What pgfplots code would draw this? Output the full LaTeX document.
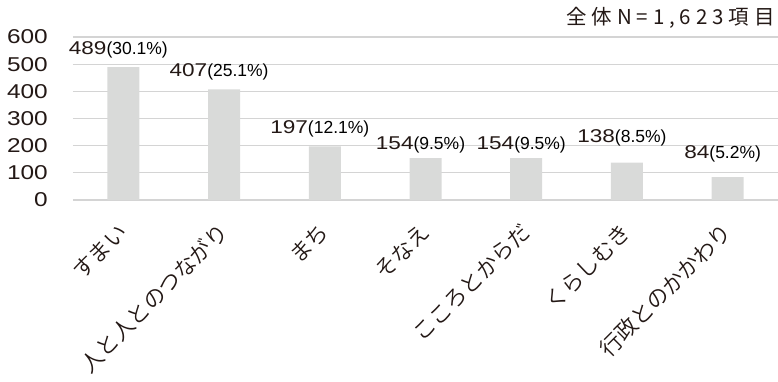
\documentclass[border=0pt]{standalone}
\usepackage{pgfplots}
\pgfplotsset{compat=1.18}
\usepackage{pgfplotstable}
\usepackage{graphicx}
\usepackage{fontspec}
\setmainfont{Liberation Sans}
\newfontfamily\jp{Noto Sans CJK JP}[UprightFont=* DemiLight]
\newfontfamily\jpr{Noto Sans CJK JP}
\definecolor{txt}{HTML}{231815}
\definecolor{bargray}{HTML}{D9DAD9}
\definecolor{gridgray}{HTML}{D4D4D4}
\pgfplotstableread{
x y pct dy
0 489 30.1 13
1 407 25.1 13
2 197 12.1 13
3 154 9.5 9
4 154 9.5 9
5 138 8.5 20
6 84 5.2 19
}\datatable
\begin{document}
\color{txt}
\begin{tikzpicture}
\useasboundingbox (-73pt,-181pt) rectangle (705pt,200pt);
\begin{axis}[
  at={(0,0)}, anchor=south west,
  scale only axis, width=705pt, height=163pt,
  xmin=-0.5, xmax=6.5, ymin=0, ymax=600,
  ytick={0,100,200,300,400,500,600},
  yticklabels={0,100,200,300,400,500,600},
  xtick={0,1,2,3,4,5,6},
  xticklabels={すまい,人と人とのつながり,まち,そなえ,こころとからだ,くらしむき,行政とのかかわり},
  axis line style={draw=none},
  major tick length=0pt,
  ymajorgrids,
  grid style={color=gridgray, line width=1.3pt},
  yticklabel style={font=\fontsize{20}{20}\selectfont, inner sep=0pt, anchor=east, xshift=-25pt, xscale=1.22},
  xticklabel style={font=\jp\fontsize{22}{22}\selectfont, inner sep=0pt, rotate=45, anchor=east},
  xticklabel shift=28pt,
  ybar, bar width=32pt,
  clip=false,
  /pgf/number format/assume math mode=true,
]
\addplot[fill=bargray, draw=none,
  visualization depends on={\thisrow{pct}\as\pct},
  visualization depends on={\thisrow{dy}\as\dy},
  nodes near coords={\fontsize{18.5}{18.5}\selectfont\scalebox{1.22}[1]{\pgfmathprintnumber{\pgfplotspointmeta}}\fontsize{17.5}{17.5}\selectfont(\pgfmathprintnumber[fixed,precision=1,fixed zerofill]{\pct}\%)},
  nodes near coords style={anchor=base, inner sep=0pt, yshift=\dy pt, xshift=-5pt},
] table[x=x, y=y] {\datatable};
\end{axis}
\node[anchor=base east, inner sep=0pt] at (702pt,176pt) {\jpr\addfontfeature{LetterSpace=24}\fontsize{20.5}{22}\selectfont 全体N=1,623項目};
\end{tikzpicture}
\end{document}
